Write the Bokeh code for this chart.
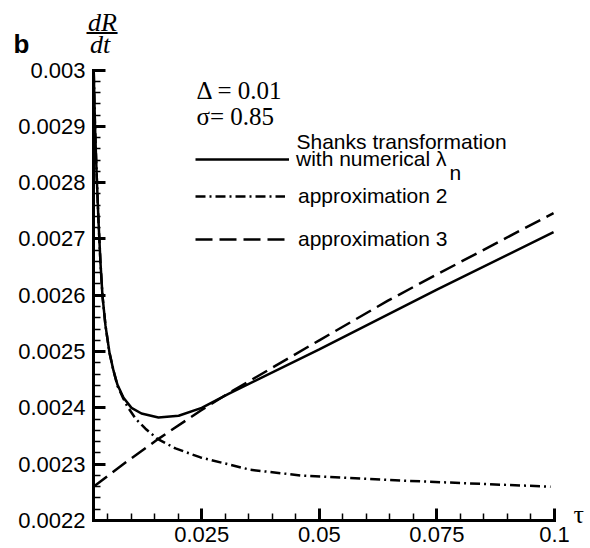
from bokeh.plotting import figure
from bokeh.models import (Label, Legend, LegendItem, FixedTicker, NumeralTickFormatter,
                          Range1d, LinearAxis)
from bokeh.embed import file_html
from bokeh.resources import INLINE

# ---- data ----
tau_shanks = [0.00206, 0.00232, 0.00264, 0.00306, 0.00349, 0.00391, 0.00455, 0.0054, 0.00625, 0.0071,
              0.00838, 0.01008, 0.0122, 0.0158, 0.0201, 0.025, 0.0307, 0.05, 0.075, 0.0998]
rate_shanks = [0.002994, 0.002900, 0.002821, 0.002732, 0.002657, 0.002599, 0.002546, 0.002498, 0.002466, 0.002441,
               0.002418, 0.002400, 0.002390, 0.002383, 0.002386, 0.002400, 0.002425, 0.002504, 0.002610, 0.002712]

tau_approx2 = [0.00206, 0.00232, 0.00264, 0.00306, 0.00349, 0.00391, 0.00455, 0.0054, 0.00625, 0.0071,
               0.00838, 0.00923, 0.01093, 0.01305, 0.0156, 0.01943, 0.02475, 0.03538, 0.0460, 0.06727, 0.09915]
rate_approx2 = [0.002994, 0.002900, 0.002821, 0.002732, 0.002657, 0.002599, 0.002546, 0.002498, 0.002466, 0.002439,
                0.002416, 0.002402, 0.002381, 0.002363, 0.002345, 0.002328, 0.002312, 0.002290, 0.002280, 0.002271, 0.002260]

tau_approx3 = [0.002, 0.0088, 0.0158, 0.02475, 0.0305, 0.05, 0.0645, 0.075, 0.0998]
rate_approx3 = [0.002260, 0.002303, 0.002345, 0.002395, 0.002425, 0.002520, 0.002590, 0.002637, 0.002746]

x_ticks = [0.025, 0.05, 0.075, 0.1]
y_ticks = [0.0022, 0.0023, 0.0024, 0.0025, 0.0026, 0.0027, 0.0028, 0.0029, 0.003]
x_minor = [round(0.005 * i, 3) for i in range(1, 20)]
y_minor = [round(0.0022 + 0.00002 * i, 5) for i in range(0, 41)]

legend_labels = ["with numerical \u03bb", "approximation 2", "approximation 3"]
legend_first_line = "Shanks transformation"
param_texts = ["\u0394 = 0.01", "\u03c3= 0.85"]

X0, X1 = 0.002, 0.1
Y0, Y1 = 0.0022, 0.003

# ---- layout (canvas pixels) ----
W, H = 590, 548
FL, FR, FT, FB = 93, 554, 69.5, 520   # box of the axes inside the canvas
sx = (X1 - X0) / (FR - FL)
sy = (Y1 - Y0) / (FB - FT)
x_start, x_end = X0 - FL * sx, X1 + (W - FR) * sx
y_start, y_end = Y0 - (H - FB) * sy, Y1 + FT * sy


def dx(px):
    return x_start + px * sx


def dy(py):
    return y_end - py * sy


p = figure(width=W, height=H, x_range=Range1d(x_start, x_end), y_range=Range1d(y_start, y_end),
           x_axis_type=None, y_axis_type=None,
           output_backend="svg", toolbar_location=None,
           min_border_left=0, min_border_right=0, min_border_top=0, min_border_bottom=0)
p.outline_line_color = None
p.background_fill_color = "white"
p.border_fill_color = "white"

xaxis = LinearAxis(fixed_location=Y0, bounds=(X0, X1),
                   ticker=FixedTicker(ticks=x_ticks, minor_ticks=x_minor))
yaxis = LinearAxis(fixed_location=X0, bounds=(Y0, Y1),
                   ticker=FixedTicker(ticks=y_ticks, minor_ticks=y_minor))
for ax in (xaxis, yaxis):
    ax.axis_line_width = 3
    ax.axis_line_color = "black"
    ax.axis_line_cap = "square"
    ax.major_tick_line_width = 3
    ax.major_tick_in = 12
    ax.major_tick_out = 0
    ax.minor_tick_line_width = 1.5
    ax.minor_tick_in = 7
    ax.minor_tick_out = 0
    ax.major_label_text_font = "Liberation Sans"
    ax.major_label_text_font_size = "22px"
    ax.major_label_text_color = "black"
    ax.formatter = NumeralTickFormatter(format="0.[0000]")
xaxis.major_label_standoff = 6
yaxis.major_label_standoff = 8
p.add_layout(xaxis, "below")
p.add_layout(yaxis, "left")

r_s = p.line(tau_shanks, rate_shanks, line_color="black", line_width=2.5)
r_a2 = p.line(tau_approx2, rate_approx2, line_color="black", line_width=2.5, line_dash="10 4 2 4")
r_a3 = p.line(tau_approx3, rate_approx3, line_color="black", line_width=2.5, line_dash="17 7")


def add_legend(label, rend, gx, gy, gw, standoff):
    top = gy - 15
    bottom = top + 30
    leg = Legend(items=[LegendItem(label=label, renderers=[rend])],
                 location=(gx, H - bottom), glyph_width=gw, glyph_height=30, label_height=30,
                 label_standoff=standoff, padding=0, margin=0, spacing=0,
                 border_line_color=None, background_fill_alpha=0,
                 label_text_font="Liberation Sans", label_text_font_size="21px",
                 label_text_color="black", label_text_baseline="middle")
    p.add_layout(leg)


add_legend(legend_labels[0], r_s, 195, 159, 94, 7)
add_legend(legend_labels[1], r_a2, 195, 195.5, 90, 13)
add_legend(legend_labels[2], r_a3, 195, 239, 93, 10)


def lab(text, px, py_mid, font, size, style="normal", align="left"):
    p.add_layout(Label(x=dx(px), y=dy(py_mid), text=text, text_font=font,
                       text_font_size=size, text_font_style=style, text_align=align,
                       text_baseline="middle", text_color="black"))


lab("b", 13, 43.6, "Liberation Sans", "26px", style="bold")
lab("dR", 102, 22.1, "Liberation Serif", "26px", style="italic", align="center")
lab("\u2014", 101.5, 29.8, "Liberation Sans", "31px", align="center")
lab("dt", 99.5, 43.6, "Liberation Serif", "26px", style="italic", align="center")
lab("\u03c4", 573, 513.6, "Liberation Serif", "26px")
lab(param_texts[0], 196, 89.5, "Liberation Serif", "25px")
lab(param_texts[1], 196, 116, "Liberation Serif", "25px")
lab(legend_first_line, 296, 141.4, "Liberation Sans", "21px")
lab("n", 449, 172.4, "Liberation Sans", "21px")

open("out.html", "w").write(file_html(p, INLINE))
